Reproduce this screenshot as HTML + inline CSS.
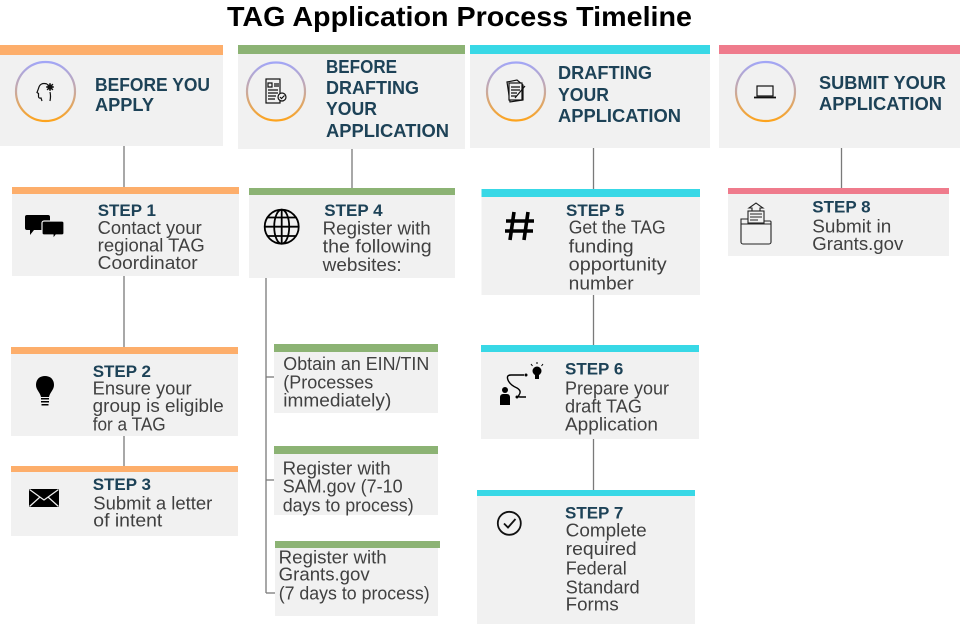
<!DOCTYPE html>
<html><head><meta charset="utf-8"><style>
html,body{margin:0;padding:0;background:#fff;}
svg{display:block;}
text{font-family:"Liberation Sans",sans-serif;}
.h{font-weight:bold;font-size:18px;fill:#1d4257;}
.s{font-weight:bold;font-size:17px;fill:#1d4257;}
.b{font-size:18px;fill:#404040;}
</style></head><body>
<svg width="960" height="624" viewBox="0 0 960 624" xmlns="http://www.w3.org/2000/svg">
<defs>
<linearGradient id="g" x1="0" y1="0" x2="0" y2="1">
<stop offset="0" stop-color="#a2a6f6"/>
<stop offset="0.5" stop-color="#c9a9a0"/>
<stop offset="1" stop-color="#fda41e"/>
</linearGradient>
</defs>
<text x="227" y="26" font-size="28" font-weight="bold" fill="#000" textLength="465" lengthAdjust="spacingAndGlyphs">TAG Application Process Timeline</text>

<!-- connectors -->
<g stroke="#7a7a7a" stroke-width="1.3" fill="none">
<line x1="124" y1="146" x2="124" y2="187"/>
<line x1="124" y1="276" x2="124" y2="347"/>
<line x1="124" y1="436" x2="124" y2="466"/>
<line x1="352" y1="149" x2="352" y2="188"/>
<line x1="266" y1="277" x2="266" y2="593"/>
<line x1="266" y1="377" x2="274" y2="377"/>
<line x1="266" y1="480" x2="274" y2="480"/>
<line x1="266" y1="593" x2="275" y2="593"/>
<line x1="593.5" y1="148" x2="593.5" y2="189"/>
<line x1="593.5" y1="295" x2="593.5" y2="345"/>
<line x1="593.5" y1="439" x2="593.5" y2="490"/>
<line x1="841.5" y1="148" x2="841.5" y2="188"/>
</g>

<!-- header boxes -->
<rect x="0" y="45" width="223" height="101" fill="#f1f1f1"/>
<rect x="0" y="45" width="223" height="10" fill="#fdae6b"/>
<rect x="238" y="45" width="227" height="104" fill="#f1f1f1"/>
<rect x="238" y="45" width="227" height="9" fill="#8cb374"/>
<rect x="470" y="45" width="240" height="103" fill="#f1f1f1"/>
<rect x="470" y="45" width="240" height="9" fill="#38d8e6"/>
<rect x="719" y="45" width="241" height="103" fill="#f1f1f1"/>
<rect x="719" y="45" width="241" height="9" fill="#ef7b8c"/>

<g fill="none" stroke="url(#g)" stroke-width="2.2">
<circle cx="45.5" cy="91.5" r="29.5"/>
<circle cx="276" cy="91.5" r="29"/>
<circle cx="516" cy="91.5" r="29"/>
<circle cx="765.5" cy="91.5" r="29.5"/>
</g>

<!-- header icons -->
<g stroke="#111" stroke-width="1.2" fill="none">
<path d="M47 84 Q40 82 38.5 88.5 L37 92.5 L38.5 93.5 L38.5 96.5 Q38.5 98.5 41 98 L42 101"/>
<path d="M50 92 Q51 96 50 101"/>
<circle cx="50" cy="87" r="2.2" fill="#111"/>
<path d="M50 83 L50 91 M46 87 L54 87 M47 84 L53 90 M53 84 L47 90"/>
<rect x="266" y="79" width="14" height="24"/>
<path d="M268 83h4v4h-4z M274 84h5 M274 86h5 M268 90h10 M268 93h10 M268 96h8 M268 99h7"/>
<circle cx="282" cy="97" r="4" fill="#f1f1f1"/>
<path d="M280 97l1.5 1.5 3-3"/>
<path d="M507 82 L517 80 L523 85 L523 100 L510 102 Z" fill="#f1f1f1"/>
<rect x="509" y="83" width="13" height="17" fill="#f1f1f1"/>
<path d="M511 87h9 M511 90h9 M511 93h6 M511 96h6 M515 98 L525 86"/>
<rect x="757" y="86" width="16" height="10"/>
<path d="M754 97.5h22" stroke-width="1.8"/>
</g>

<text class="h" x="95" y="91" textLength="115" lengthAdjust="spacingAndGlyphs">BEFORE YOU</text>
<text class="h" x="95" y="111" textLength="59" lengthAdjust="spacingAndGlyphs">APPLY</text>
<text class="h" x="326" y="73" textLength="71" lengthAdjust="spacingAndGlyphs">BEFORE</text>
<text class="h" x="326" y="94" textLength="93" lengthAdjust="spacingAndGlyphs">DRAFTING</text>
<text class="h" x="326" y="115" textLength="51" lengthAdjust="spacingAndGlyphs">YOUR</text>
<text class="h" x="326" y="137" textLength="123" lengthAdjust="spacingAndGlyphs">APPLICATION</text>
<text class="h" x="558" y="79" textLength="94" lengthAdjust="spacingAndGlyphs">DRAFTING</text>
<text class="h" x="558" y="101" textLength="51" lengthAdjust="spacingAndGlyphs">YOUR</text>
<text class="h" x="558" y="122" textLength="123" lengthAdjust="spacingAndGlyphs">APPLICATION</text>
<text class="h" x="819" y="89" textLength="127" lengthAdjust="spacingAndGlyphs">SUBMIT YOUR</text>
<text class="h" x="819" y="110" textLength="123" lengthAdjust="spacingAndGlyphs">APPLICATION</text>

<!-- step boxes -->
<rect x="12" y="187" width="227" height="89" fill="#f1f1f1"/>
<rect x="12" y="187" width="227" height="7" fill="#fdae6b"/>
<rect x="11" y="347" width="227" height="89" fill="#f1f1f1"/>
<rect x="11" y="347" width="227" height="7" fill="#fdae6b"/>
<rect x="11" y="466" width="227" height="70" fill="#f1f1f1"/>
<rect x="11" y="466" width="227" height="6" fill="#fdae6b"/>

<rect x="249" y="188" width="206" height="90" fill="#f1f1f1"/>
<rect x="249" y="188" width="206" height="7" fill="#8cb374"/>
<rect x="274" y="344" width="164" height="69" fill="#f1f1f1"/>
<rect x="274" y="344" width="164" height="8" fill="#8cb374"/>
<rect x="274" y="446" width="164" height="69" fill="#f1f1f1"/>
<rect x="274" y="446" width="164" height="8" fill="#8cb374"/>
<rect x="275" y="548" width="163" height="68" fill="#f1f1f1"/>
<rect x="275" y="541" width="165" height="7" fill="#8cb374"/>

<rect x="481.5" y="189" width="218.5" height="106" fill="#f1f1f1"/>
<rect x="481.5" y="189" width="218.5" height="8" fill="#38d8e6"/>
<rect x="481" y="345" width="218" height="94" fill="#f1f1f1"/>
<rect x="481" y="345" width="218" height="7" fill="#38d8e6"/>
<rect x="477" y="490" width="218" height="134" fill="#f1f1f1"/>
<rect x="477" y="490" width="218" height="6" fill="#38d8e6"/>

<rect x="728" y="188" width="221" height="68" fill="#f1f1f1"/>
<rect x="728" y="188" width="221" height="6" fill="#ef7b8c"/>

<!-- step icons -->
<g fill="#000">
<path d="M27 215h21a2 2 0 0 1 2 2v11a2 2 0 0 1-2 2h-14l-4 5v-5h-3a2 2 0 0 1-2-2v-11a2 2 0 0 1 2-2z"/>
<path d="M44 221h18a2 2 0 0 1 2 2v10a2 2 0 0 1-2 2h-6l-3 4v-4h-9a2 2 0 0 1-2-2v-10a2 2 0 0 1 2-2z" stroke="#f1f1f1" stroke-width="1.2"/>
<path d="M45 376c-6 0-9 4-9 9 0 5 4 7 5 12h8c1-5 5-7 5-12 0-5-3-9-9-9z"/>
<rect x="41" y="398" width="8" height="1.5"/>
<rect x="41" y="401" width="8" height="1.5"/>
<rect x="41.5" y="404" width="7" height="1.5"/>
<rect x="29" y="489" width="30" height="18"/>
</g>
<path d="M29.5 489.5 L44 500 L58.5 489.5 M29.5 506.5 L40 497 M58.5 506.5 L48 497" stroke="#f1f1f1" stroke-width="1.2" fill="none"/>

<g stroke="#000" stroke-width="1.8" fill="none">
<circle cx="281.7" cy="226.7" r="17"/>
<ellipse cx="281.7" cy="226.7" rx="7.5" ry="17"/>
<line x1="281.7" y1="209.7" x2="281.7" y2="243.7"/>
<line x1="264.7" y1="226.7" x2="298.7" y2="226.7"/>
<path d="M267 217.5h29.4 M267 236h29.4"/>
</g>

<g stroke="#000" stroke-width="3.6" fill="none" stroke-linecap="butt">
<path d="M514 212 L510 240 M528 212 L524 240 M506 221 L534 221 M505 231 L533 231"/>
</g>

<g fill="#000">
<circle cx="505" cy="390" r="3"/>
<path d="M500 405v-8a3 3 0 0 1 3-3h4a3 3 0 0 1 3 3v8z"/>
<circle cx="537" cy="371" r="4.5"/>
<rect x="535" y="375" width="4" height="4"/>
<circle cx="526" cy="375" r="1.5"/>
<circle cx="517" cy="397" r="1.5"/>
</g>
<path d="M524 375 H511 Q506 375 508 380 Q510 385 517 388 Q522 391 519 395 Q518 397 520 397 H526" stroke="#000" stroke-width="1.4" fill="none"/>
<path d="M531 364l1.5 2 M537 362v2 M543 364l-1.5 2" stroke="#000" stroke-width="1"/>

<g stroke="#111" stroke-width="1.8" fill="none">
<circle cx="509.3" cy="523.3" r="11.5"/>
<path d="M504 523.5 L508 527.5 L515.5 519"/>
</g>

<g stroke="#222" stroke-width="1.1" fill="none">
<path d="M741 219h8l2 2h19a1 1 0 0 1 1 1v20a2 2 0 0 1-2 2h-26a2 2 0 0 1-2-2z"/>
<path d="M741 224h30"/>
<rect x="748" y="211" width="16" height="12" fill="#f1f1f1"/>
<path d="M750 214h12 M750 217h12 M750 220h8"/>
<path d="M752 211v-3h-3l7-5 7 5h-3v3"/>
</g>

<!-- step text -->
<text class="s" x="97.7" y="216">STEP 1</text>
<text class="b" x="97.7" y="234" textLength="104" lengthAdjust="spacingAndGlyphs">Contact your</text>
<text class="b" x="97.7" y="251.7" textLength="107" lengthAdjust="spacingAndGlyphs">regional TAG</text>
<text class="b" x="97.7" y="269" textLength="100" lengthAdjust="spacingAndGlyphs">Coordinator</text>

<text class="s" x="92.7" y="377">STEP 2</text>
<text class="b" x="92.7" y="394.3" textLength="99" lengthAdjust="spacingAndGlyphs">Ensure your</text>
<text class="b" x="92.7" y="412" textLength="131" lengthAdjust="spacingAndGlyphs">group is eligible</text>
<text class="b" x="92.7" y="430.7" textLength="73" lengthAdjust="spacingAndGlyphs">for a TAG</text>

<text class="s" x="92.7" y="490">STEP 3</text>
<text class="b" x="93.3" y="509.3" textLength="119" lengthAdjust="spacingAndGlyphs">Submit a letter</text>
<text class="b" x="93.3" y="526.7" textLength="69" lengthAdjust="spacingAndGlyphs">of intent</text>

<text class="s" x="324.3" y="216">STEP 4</text>
<text class="b" x="322.7" y="234.3" textLength="108" lengthAdjust="spacingAndGlyphs">Register with</text>
<text class="b" x="322.7" y="252.3" textLength="109" lengthAdjust="spacingAndGlyphs">the following</text>
<text class="b" x="322.7" y="271" textLength="79" lengthAdjust="spacingAndGlyphs">websites:</text>

<text class="b" x="283.3" y="370" textLength="146" lengthAdjust="spacingAndGlyphs">Obtain an EIN/TIN</text>
<text class="b" x="283.3" y="388.3" textLength="90" lengthAdjust="spacingAndGlyphs">(Processes</text>
<text class="b" x="283.3" y="406.7" textLength="108" lengthAdjust="spacingAndGlyphs">immediately)</text>

<text class="b" x="282.7" y="474.3" textLength="108" lengthAdjust="spacingAndGlyphs">Register with</text>
<text class="b" x="282.7" y="492.7" textLength="120" lengthAdjust="spacingAndGlyphs">SAM.gov (7-10</text>
<text class="b" x="282.7" y="511.7" textLength="131" lengthAdjust="spacingAndGlyphs">days to process)</text>

<text class="b" x="278.7" y="563.3" textLength="108" lengthAdjust="spacingAndGlyphs">Register with</text>
<text class="b" x="278.7" y="580.7" textLength="91" lengthAdjust="spacingAndGlyphs">Grants.gov</text>
<text class="b" x="278.7" y="599.3" textLength="151" lengthAdjust="spacingAndGlyphs">(7 days to process)</text>

<text class="s" x="566" y="216">STEP 5</text>
<text class="b" x="568.7" y="233.3" textLength="97" lengthAdjust="spacingAndGlyphs">Get the TAG</text>
<text class="b" x="568.7" y="252.3" textLength="65" lengthAdjust="spacingAndGlyphs">funding</text>
<text class="b" x="568.7" y="270.7" textLength="98" lengthAdjust="spacingAndGlyphs">opportunity</text>
<text class="b" x="568.7" y="289.3" textLength="65" lengthAdjust="spacingAndGlyphs">number</text>

<text class="s" x="565" y="374.3">STEP 6</text>
<text class="b" x="565" y="394.3" textLength="104" lengthAdjust="spacingAndGlyphs">Prepare your</text>
<text class="b" x="565" y="412.3" textLength="77" lengthAdjust="spacingAndGlyphs">draft TAG</text>
<text class="b" x="565" y="430.7" textLength="93" lengthAdjust="spacingAndGlyphs">Application</text>

<text class="s" x="565" y="518.3">STEP 7</text>
<text class="b" x="565.7" y="536.7" textLength="81" lengthAdjust="spacingAndGlyphs">Complete</text>
<text class="b" x="565.7" y="555" textLength="71" lengthAdjust="spacingAndGlyphs">required</text>
<text class="b" x="565.7" y="574.3" textLength="61" lengthAdjust="spacingAndGlyphs">Federal</text>
<text class="b" x="565.7" y="593.3" textLength="74" lengthAdjust="spacingAndGlyphs">Standard</text>
<text class="b" x="565.7" y="610.7" textLength="53" lengthAdjust="spacingAndGlyphs">Forms</text>

<text class="s" x="812.3" y="212.3">STEP 8</text>
<text class="b" x="812.3" y="232.3" textLength="79" lengthAdjust="spacingAndGlyphs">Submit in</text>
<text class="b" x="812.3" y="250" textLength="91" lengthAdjust="spacingAndGlyphs">Grants.gov</text>
</svg>
</body></html>
